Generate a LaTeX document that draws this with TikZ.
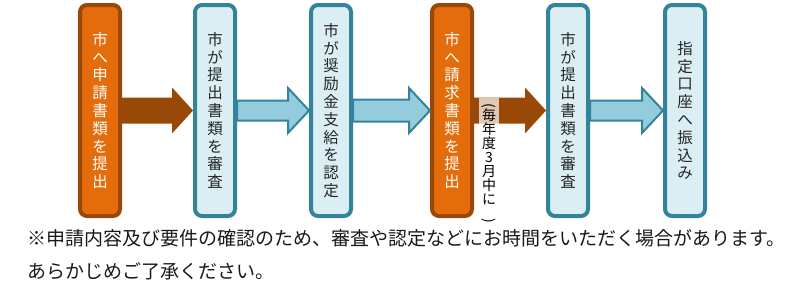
\documentclass[tikz,border=0pt]{standalone}
\usepackage{fontspec}
\setmainfont{Noto Sans CJK JP}
\usepackage{graphicx}
\usetikzlibrary{positioning, calc}

\definecolor{daidai}{HTML}{E46C0A}
\definecolor{chairo}{HTML}{984807}
\definecolor{mizuiro}{HTML}{DBEEF4}
\definecolor{aoiro}{HTML}{93CDDD}
\definecolor{aomidori}{HTML}{31849B}

% fat arrow between two boxes: style, from, to, shaft half height, head half height
\newcommand{\yajirushi}[5]{%
  \path[#1] (#2.east) ++(0,#4) -- ($(#3.west)+(-21,#4)$) -- ($(#3.west)+(-21,#5)$)
    -- (#3.west) -- ($(#3.west)+(-21,-#5)$) -- ($(#3.west)+(-21,-#4)$)
    -- ($(#2.east)+(0,-#4)$) -- cycle;}

\begin{document}
\begin{tikzpicture}[x=1pt, y=-1pt,
            orangebox/.style={rectangle, rounded corners=7pt, draw=chairo, fill=daidai, line width=4pt,
                              minimum width=40pt, minimum height=211pt, inner sep=0pt,
                              text=white, align=center, font=\fontsize{15.5}{17.8}\selectfont},
            bluebox/.style  ={orangebox, draw=aomidori, fill=mizuiro, text=black!85},
            orangearr/.style={fill=chairo},
            bluearr/.style  ={draw=aomidori, fill=aoiro, line width=2pt},
            jikibox/.style  ={fill=white, fill opacity=0.7, text opacity=1, inner xsep=3pt, inner ysep=5pt,
                              minimum width=20pt, align=center, font=\fontsize{14}{14}\selectfont},
            chuui/.style    ={align=left, inner sep=0pt, text=black!90, font=\fontsize{19}{33}\selectfont}
        ]
            \useasboundingbox (0,0) rectangle (800,289);

            % --- Pasos (de izquierda a derecha) ---
            \node[orangebox]                         (teishutsu) at (100,110.5) {市\\へ\\申\\請\\書\\類\\を\\提\\出};
            \node[bluebox,   right=71pt of teishutsu] (shinsa1)  {市\\が\\提\\出\\書\\類\\を\\審\\査};
            \node[bluebox,   right=72pt of shinsa1]   (nintei)   {市\\が\\奨\\励\\金\\支\\給\\を\\認\\定};
            \node[orangebox, right=77pt of nintei]    (seikyu)   {市\\へ\\請\\求\\書\\類\\を\\提\\出};
            \node[bluebox,   right=72pt of seikyu]    (shinsa2)  {市\\が\\提\\出\\書\\類\\を\\審\\査};
            \node[bluebox,   right=73pt of shinsa2]   (furikomi) {指\\定\\口\\座\\へ\\振\\込\\み};

            % --- Flechas ---
            \yajirushi{orangearr}{teishutsu}{shinsa1}{13}{23}
            \yajirushi{bluearr}{shinsa1}{nintei}{10}{22.5}
            \yajirushi{bluearr}{nintei}{seikyu}{11}{22.5}
            \yajirushi{orangearr}{seikyu}{shinsa2}{13}{23}
            \yajirushi{bluearr}{shinsa2}{furikomi}{10}{22.5}

            % --- Plazo ---
            \node[jikibox, anchor=north] (jiki) at ($(seikyu.north east)+(15,95)$)
                {\rotatebox{-90}{(}\\毎\\年\\度\\3\\月\\中\\に\\\rotatebox{-90}{)}};

            % --- Nota ---
            \node[chuui, anchor=west] (chuuki) at (27,254.5)
                {※申請内容及び要件の確認のため、審査や認定などにお時間をいただく場合があります。\\あらかじめご了承ください。};
        \end{tikzpicture}
\end{document}
